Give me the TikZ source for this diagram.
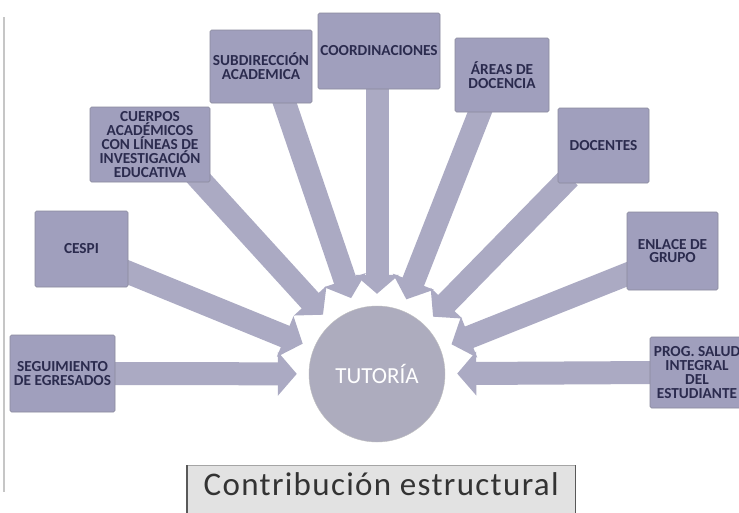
\documentclass[tikz,border=0pt]{standalone}
\usepackage{fontspec}
\setmainfont{Carlito}
\newfontfamily\capfont[LetterSpace=4]{Carlito}
\usetikzlibrary{arrows.meta,backgrounds}
\definecolor{ink}{HTML}{2B2B4E}
\definecolor{boxbg}{HTML}{A09FBD}
\definecolor{boxrule}{HTML}{8A8A9C}
\definecolor{arrowbg}{HTML}{ABAAC3}
\definecolor{hubbg}{HTML}{ADACBE}
\definecolor{capbg}{HTML}{E2E2E2}
\definecolor{caprule}{HTML}{A5A5A5}

\begin{document}
\begin{tikzpicture}[x=1pt,y=-1pt,text=ink,
  box/.style={draw=boxrule,fill=boxbg,line width=.6pt,rounded corners=1.5pt,
    align=center,inner sep=1pt,
    font=\bfseries\fontsize{15.3}{13.8}\selectfont},
  flow/.style={-{Triangle[length=19pt,width=43pt]},line width=23pt,
    draw=arrowbg,shorten >=12pt}]
\useasboundingbox (0,0) rectangle (739,512);

% left margin rule
\draw[line width=2.4pt,draw=gray!45] (4,17)--(4,492);

% the nine units around the hub
\node[box,minimum width=105pt,minimum height=77pt] (seg) at (62.5,373.5)
  {SEGUIMIENTO\\DE EGRESADOS};
\node[box,minimum width=93pt,minimum height=76pt] (cespi) at (81.5,249)
  {CESPI};
\node[box,minimum width=120pt,minimum height=75pt] (cuerpos) at (150,144.5)
  {CUERPOS\\ACADÉMICOS\\CON LÍNEAS DE\\INVESTIGACIÓN\\EDUCATIVA};
\node[box,minimum width=102pt,minimum height=73pt] (subdir) at (261,66.5)
  {SUBDIRECCIÓN\\ACADEMICA};
\node[box,minimum width=122pt,minimum height=76pt] (coord) at (379,51)
  {COORDINACIONES};
\node[box,minimum width=94pt,minimum height=74pt] (areas) at (502,75)
  {ÁREAS DE\\DOCENCIA};
\node[box,minimum width=91pt,minimum height=75pt] (docentes) at (603.5,145.5)
  {DOCENTES};
\node[box,minimum width=91pt,minimum height=78pt] (enlace) at (672.5,251)
  {ENLACE DE\\GRUPO};
\node[box,minimum width=94pt,minimum height=71pt] (prog) at (697,372.5)
  {PROG. SALUD\\INTEGRAL\\DEL\\ESTUDIANTE};

% hub
\node[circle,draw=gray!50,fill=hubbg,minimum size=136pt,text=white,
  font=\fontsize{23}{25}\selectfont] (tut) at (377,374) {TUTORÍA};

% block arrows run behind the boxes
\begin{pgfonlayer}{background}
\fill[white] (0,0) rectangle (739,512);
\draw[flow] ([xshift=-6pt]seg.east)--(tut);
\draw[flow] ([xshift=-6pt,yshift=-21pt]cespi.east)--(tut);
\draw[flow] ([xshift=45pt,yshift=8pt]cuerpos.south)--(tut);
\draw[flow] ([xshift=21pt,yshift=8pt]subdir.south)--(tut);
\draw[flow] ([xshift=-2pt,yshift=8pt]coord.south)--(tut);
\draw[flow] ([xshift=-19pt,yshift=8pt]areas.south)--(tut);
\draw[flow] ([xshift=-34pt,yshift=6pt]docentes.south)--(tut);
\draw[flow] ([xshift=6pt,yshift=-21pt]enlace.west)--(tut);
\draw[flow] ([xshift=6pt]prog.west)--(tut);
\end{pgfonlayer}

% caption, cut by the lower page edge
\node[anchor=north west,minimum width=388pt,inner xsep=0pt,inner ysep=6pt,
  text height=24pt,text depth=20pt,fill=capbg,draw=caprule,text=black!80,
  font=\capfont\fontsize{33}{36}\selectfont] (cap) at (187,465)
  {Contribución estructural};
\draw[line width=1.8pt,draw=black!65] (cap.north west)--(cap.south west);
\draw[line width=1.8pt,draw=black!65] (cap.north east)--(cap.south east);
\end{tikzpicture}
\end{document}
